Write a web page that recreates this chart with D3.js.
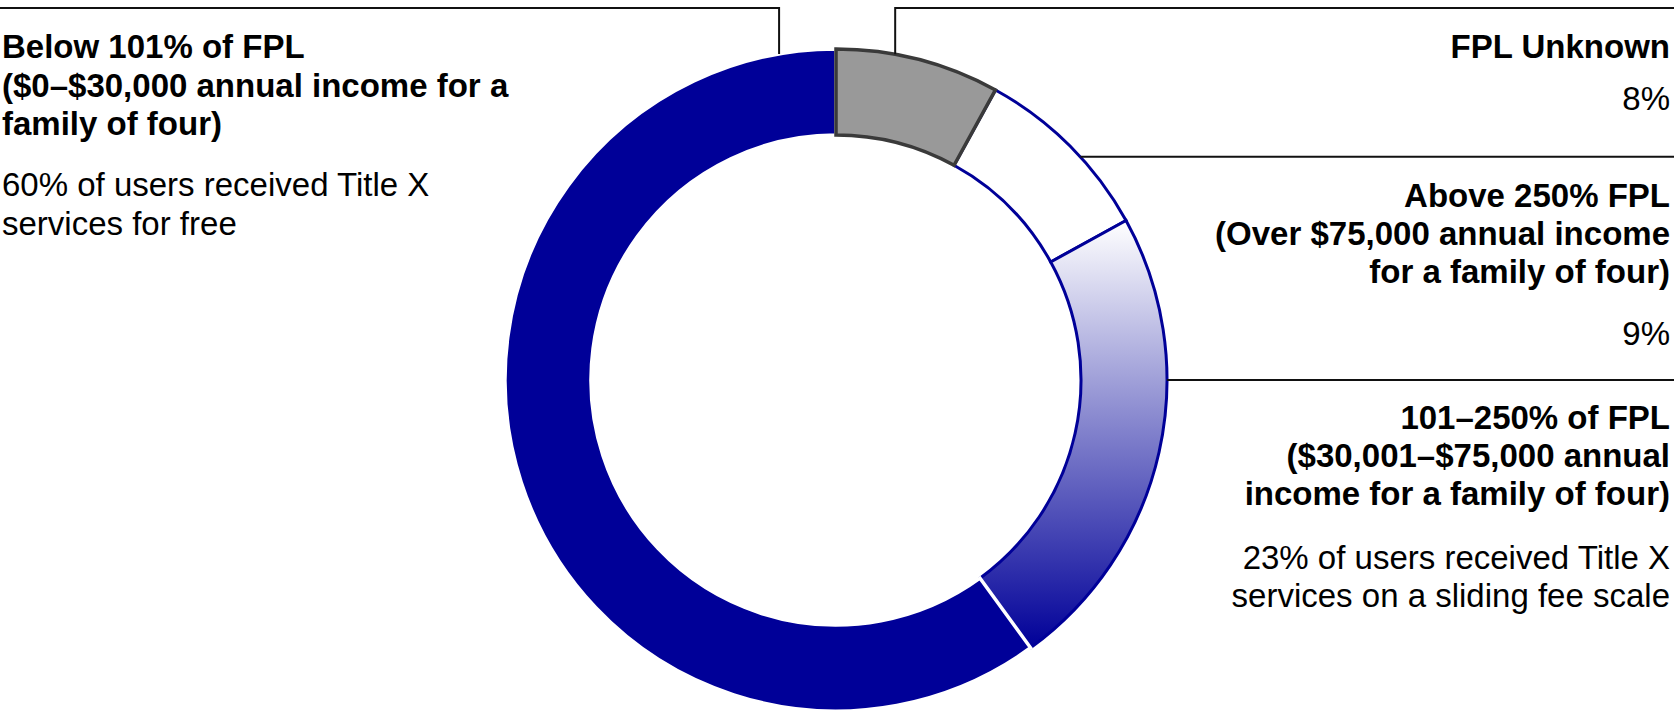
<!DOCTYPE html>
<html>
<head>
<meta charset="utf-8">
<script src="https://cdn.jsdelivr.net/npm/d3@7"></script>
<style>
  html, body { margin: 0; padding: 0; background: #fff; }
  svg { display: block; }
  text { font-family: "Liberation Sans", Arial, Helvetica, sans-serif; font-size: 33px; fill: #000; }
  .b { font-weight: bold; }
</style>
</head>
<body>
<svg id="chart" width="1674" height="718"></svg>
<script>
// ---- data ----
const categories = ["FPL Unknown", "Above 250% FPL", "101–250% of FPL", "Below 101% of FPL"];
const shares = [8, 9, 23, 60];
const titleLines = [
  ["FPL Unknown"],
  ["Above 250% FPL", "(Over $75,000 annual income", "for a family of four)"],
  ["101–250% of FPL", "($30,001–$75,000 annual", "income for a family of four)"],
  ["Below 101% of FPL", "($0–$30,000 annual income for a", "family of four)"]
];
const noteLines = [
  ["8%"],
  ["9%"],
  ["23% of users received Title X", "services on a sliding fee scale"],
  ["60% of users received Title X", "services for free"]
];

// ---- layout ----
const W = 1674, H = 718;
const cx = 836, cy = 380, rOut = 331, rIn = 245;
const navy = "#000098";

const svg = d3.select("#chart");
const defs = svg.append("defs");
const grad = defs.append("linearGradient").attr("id", "g23")
  .attr("x1", 0).attr("y1", 0).attr("x2", 0).attr("y2", 1);
grad.append("stop").attr("offset", "0%").attr("stop-color", "#ffffff");
grad.append("stop").attr("offset", "100%").attr("stop-color", navy);

const data = categories.map((c, i) => ({ cat: c, v: shares[i], i }));
const pie = d3.pie().value(d => d.v).sort(null);
const arcs = pie(data);
const arc = d3.arc().innerRadius(rIn).outerRadius(rOut);

const styles = [
  { fill: "#999999", stroke: "#3a3a3a", sw: 3.5 },
  { fill: "#ffffff", stroke: navy, sw: 3 },
  { fill: "url(#g23)", stroke: navy, sw: 3 },
  { fill: navy, stroke: "#ffffff", sw: 3.5 }
];
const order = [1, 2, 3, 0];
const g = svg.append("g").attr("transform", `translate(${cx},${cy})`);
g.selectAll("path").data(order.map(k => arcs[k])).join("path")
  .attr("d", arc)
  .attr("fill", d => styles[d.data.i].fill)
  .attr("stroke", d => styles[d.data.i].stroke)
  .attr("stroke-width", d => styles[d.data.i].sw)
  .attr("stroke-linejoin", "miter");

// ---- leader lines ----
const lines = svg.append("g").attr("fill", "none").attr("stroke", "#111").attr("stroke-width", 2);
const topY = 8;
const pt = (deg, r) => [cx + r * Math.sin(deg * Math.PI / 180), cy - r * Math.cos(deg * Math.PI / 180)];
{
  const p = pt(-9.9, rOut);
  lines.append("path").attr("d", `M${p[0]},${p[1]}V${topY}H0`);
}
{
  const p = pt(10.3, rOut);
  lines.append("path").attr("d", `M${p[0]},${p[1]}V${topY}H${W}`);
}
{
  const p = pt(47.6, rOut);
  lines.append("path").attr("d", `M${p[0]},${p[1]}H${W}`);
}
{
  const p = pt(90, rOut);
  lines.append("path").attr("d", `M${p[0]},${p[1]}H${W}`);
}

// ---- labels ----
function block(x, anchor, y0, titles, notes, lh, noteY) {
  const t = svg.append("text").attr("text-anchor", anchor);
  let y = y0;
  titles.forEach(s => {
    t.append("tspan").attr("class", "b").attr("x", x).attr("y", y).text(s);
    y += lh;
  });
  y = noteY;
  notes.forEach(s => {
    t.append("tspan").attr("x", x).attr("y", y).text(s);
    y += lh;
  });
}
const LH = 38;
block(1670, "end", 58, titleLines[0], noteLines[0], LH, 110);
block(1670, "end", 207, titleLines[1], noteLines[1], LH, 345);
block(1670, "end", 429, titleLines[2], noteLines[2], LH, 569);
block(2, "start", 58, titleLines[3], noteLines[3], 38.5, 196);
</script>
</body>
</html>
